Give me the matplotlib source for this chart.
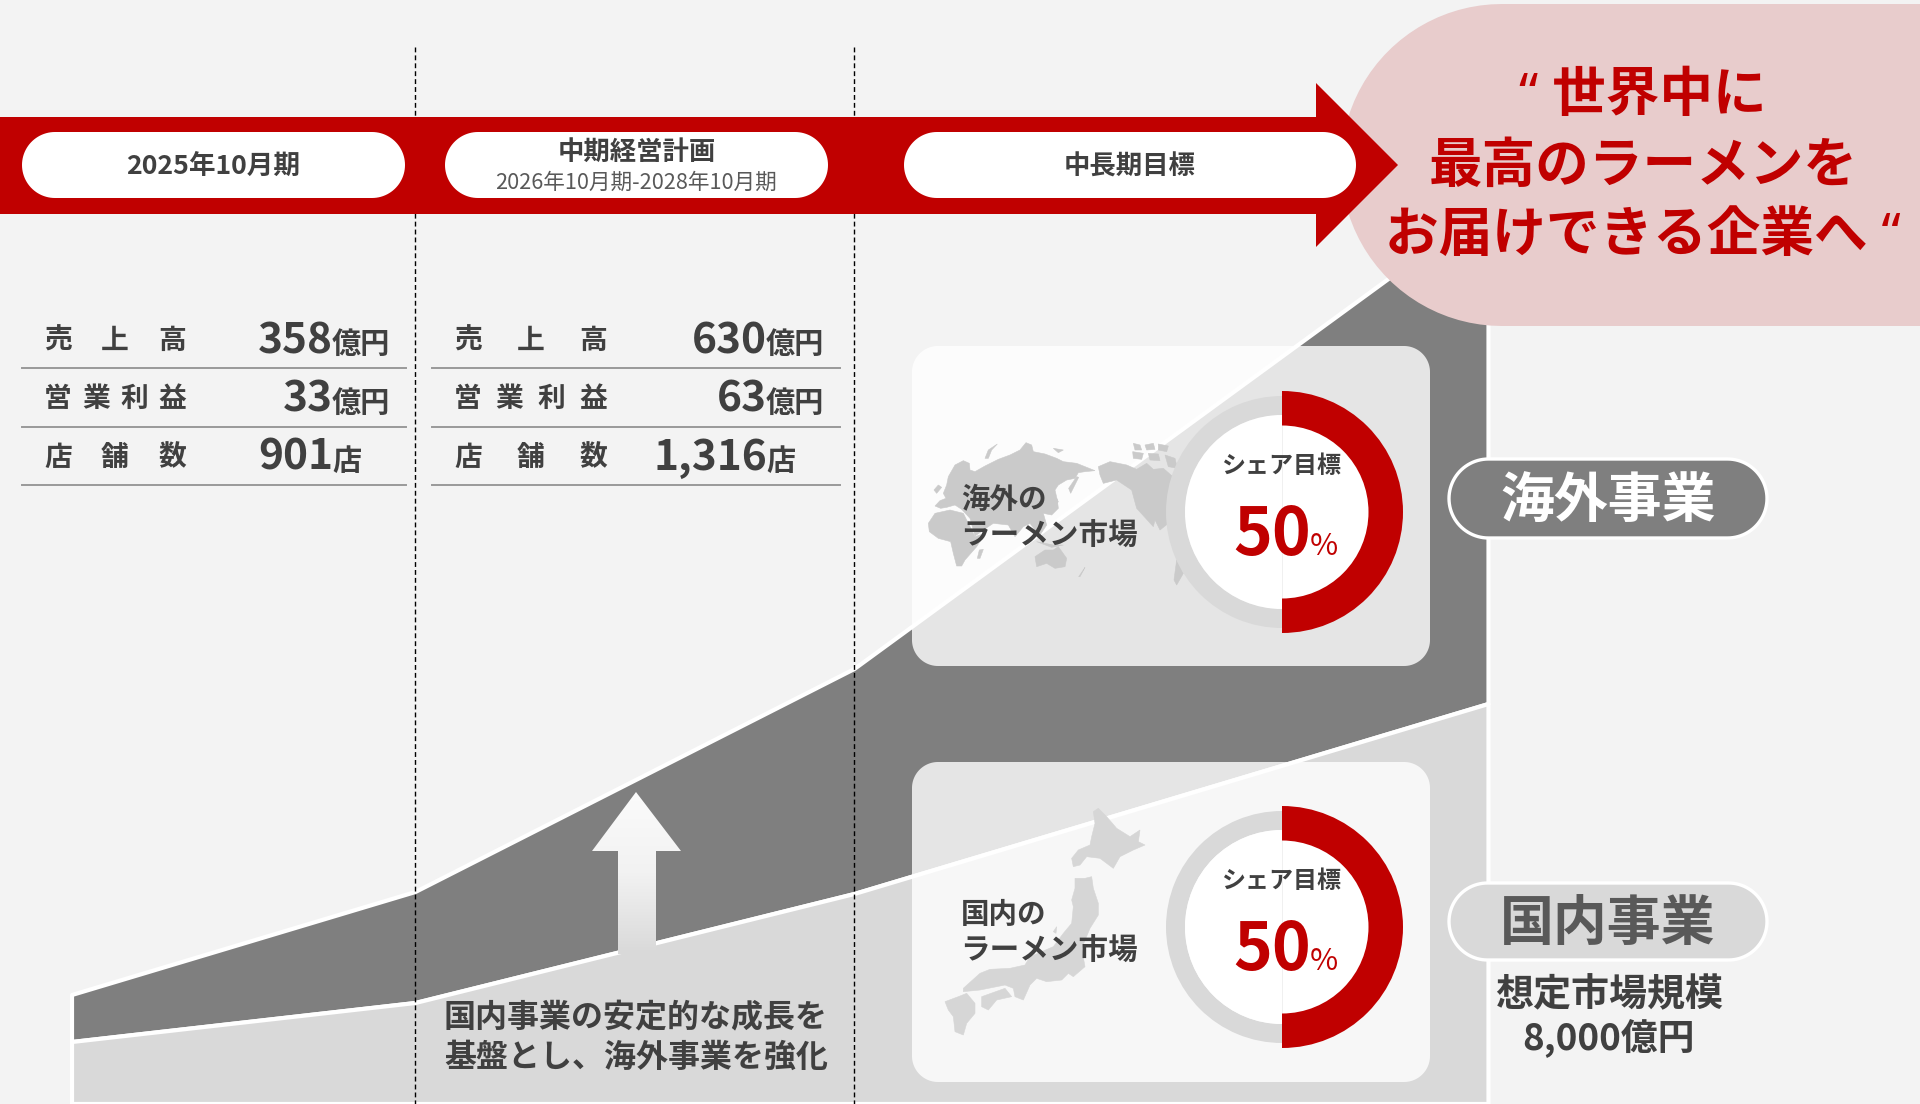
import numpy as np
import matplotlib
matplotlib.use('Agg')
import matplotlib.pyplot as plt
from matplotlib.patches import Polygon, Wedge, Circle
from matplotlib.colors import LinearSegmentedColormap

plt.rcParams['font.family'] = ['Noto Sans CJK JP', 'DejaVu Sans']

# stacked market areas, relative size at each period boundary
area_pos = [0.0, 0.2425, 0.5524, 1.0]
domestic_size = [62, 101, 210, 400]
overseas_size = [47, 111, 225, 498]

# results table
row_labels = ['売上高', '営業利益', '店舗数']
results_2025 = ['358', '33', '901']
results_plan = ['630', '63', '1,316']
row_units = ['億円', '億円', '店']

period_names = ['2025年10月期', '中期経営計画', '中長期目標']
plan_range = '2026年10月期-2028年10月期'
share_target = 50
market_size = '8,000億円'
slogan = ['“ 世界中に', '最高のラーメンを', 'お届けできる企業へ “']

RED = '#c00000'
DARK = '#7f7f7f'
LIGHT = '#d9d9d9'
TEXT = '#404040'
BG = '#f3f3f3'

# rough map outlines, land mass by land mass
world_map = [
    [(45,228),(60,212),(78,205),(70,190),(80,165),(85,140),(105,105),(130,92),(148,100),(150,120),(165,125),
     (195,108),(235,88),(270,75),(300,60),(318,38),(335,45),(340,65),(375,72),(410,85),(430,95),(470,100),
     (525,122),(495,125),(475,128),(465,145),(440,150),(415,165),(405,180),(412,210),(415,235),(395,255),(370,250),
     (380,285),(360,315),(345,300),(330,280),(310,290),(285,320),(265,285),(220,280),(205,290),(165,318),
     (150,265),(125,238),(105,225),(80,232),(62,235)],
    [(195,85),(205,60),(232,42),(215,60),(205,85)],
    [(470,140),(476,142),(452,190),(446,175)],
    [(25,280),(45,250),(90,240),(130,250),(165,320),(195,310),(170,350),(135,390),(125,408),(110,408),
     (100,370),(92,335),(55,325),(28,305)],
    [(42,180),(55,165),(65,172),(50,190)],
    [(178,360),(190,358),(180,385),(172,385)],
    [(345,380),(375,360),(400,360),(415,350),(440,385),(435,410),(405,415),(380,400),(350,410)],
    [(495,412),(480,440),(476,440),(490,420)],
    [(350,335),(400,345),(430,345),(395,352)],
    [(385,240),(410,205),(415,215),(395,245)],
    [(400,55),(430,60),(415,68)],
    [(535,110),(570,95),(620,105),(650,118),(680,100),(700,118),(730,115),(770,150),(770,180),(745,210),(745,280),
     (720,300),(705,270),(700,290),(650,235),(635,180),(590,150),(550,160),(540,135)],
    [(640,40),(660,45),(665,60),(645,60)],
    [(675,45),(700,40),(705,58),(680,60)],
    [(715,42),(745,48),(740,65),(715,60)],
    [(638,65),(670,70),(665,88),(640,85)],
    [(685,70),(715,72),(720,92),(690,90)],
    [(735,75),(765,85),(772,115),(745,110)],
    [(770,390),(790,430),(770,465),(762,450)],
]
japan_map = [
    [(490,35),(505,25),(530,50),(560,85),(600,110),(630,90),(625,125),(645,135),(610,150),(570,170),(550,205),
     (510,175),(470,170),(450,195),(430,200),(425,175),(445,150),(480,135),(485,110),(495,70)],
    [(435,235),(465,235),(485,230),(490,265),(505,310),(505,345),(480,385),(455,445),(465,500),(430,530),
     (415,520),(395,540),(350,545),(320,535),(300,555),(280,600),(255,590),(250,565),(225,555),(150,570),
     (100,575),(100,565),(150,520),(180,508),(240,505),(285,495),(300,470),(370,440),(400,400),(425,370),
     (430,320),(425,300),(435,265)],
    [(155,590),(225,565),(245,590),(200,600),(175,630),(155,620)],
    [(45,605),(85,590),(110,580),(135,610),(135,640),(110,670),(100,705),(75,695),(70,650),(55,630)],
    [(370,395),(380,380),(378,400)],
]


def rounded(x0, y0, x1, y1, r):
    # closed outline of a rectangle with true circular corners
    corners = [(x1 - r, y0 + r, -90), (x1 - r, y1 - r, 0), (x0 + r, y1 - r, 90), (x0 + r, y0 + r, 180)]
    pts = []
    for cx, cy, a in corners:
        t = np.radians(np.linspace(a, a + 90, 24))
        pts += list(zip(cx + r * np.cos(t), cy + r * np.sin(t)))
    return pts


def draw_map(outlines, ox, oy, color):
    for land in outlines:
        pts = [(ox + x / 3, oy + y / 3) for x, y in land]
        ax.add_patch(Polygon(pts, closed=True, fc=color, ec=color, lw=0.4, zorder=6))


fig = plt.figure(figsize=(19.2, 11.04), dpi=100, facecolor=BG)

# stacked areas get their own axes, spanning 71.5..1488 px across and up from y=1103.5
ax_area = fig.add_axes([71.5 / 1920, 0.5 / 1104, (1488 - 71.5) / 1920, 893.5 / 1104])
ax_area.set_xlim(0, 1)
ax_area.set_ylim(0, 893.5)
ax_area.axis('off')
ax_area.set_zorder(1)
stack_top = np.array(domestic_size) + np.array(overseas_size)
ax_area.fill_between(area_pos, domestic_size, stack_top, fc=DARK, ec='white', lw=3, clip_on=False)
ax_area.fill_between(area_pos, 0, domestic_size, fc=LIGHT, ec='white', lw=3, clip_on=False)

# everything else is laid out in pixels
ax = fig.add_axes([0, 0, 1, 1])
ax.set_xlim(0, 1920)
ax.set_ylim(1104, 0)
ax.axis('off')
ax.set_zorder(2)
ax.patch.set_alpha(0)

for x in [415, 854]:
    ax.plot([x, x], [47, 1104], color='black', lw=1.0, ls=(0, (3.5, 2.2)), zorder=2)

# slogan bubble behind the arrow
ax.add_patch(Polygon(rounded(1341, 4, 2300, 326, 161), closed=True, fc='#e8cccc', ec='none', zorder=3))

# timeline arrow
ax.add_patch(Polygon([(0, 117), (1316, 117), (1316, 83), (1398, 165), (1316, 247), (1316, 214), (0, 214)],
                     closed=True, fc=RED, ec='none', zorder=4))
for x0, x1 in [(22, 405), (445, 828), (904, 1356)]:
    ax.add_patch(Polygon(rounded(x0, 132, x1, 198, 33), closed=True, fc='white', ec='none', zorder=5))

ax.text(213, 166, period_names[0], ha='center', va='center', fontsize=19.2, weight='bold', color=TEXT, zorder=6)
ax.text(637, 152.5, period_names[1], ha='center', va='center', fontsize=19, weight='bold', color=TEXT, zorder=6)
ax.text(636, 182.5, plan_range, ha='center', va='center', fontsize=15.6, color='#595959', zorder=6)
ax.text(1130, 167, period_names[2], ha='center', va='center', fontsize=19, weight='bold', color=TEXT, zorder=6)

for i, line in enumerate(slogan):
    ax.text(1643, 98 + i * 70, line, ha='center', va='center', fontsize=38.6, weight='bold', color=RED,
            family=['Noto Sans', 'Noto Sans CJK JP'], zorder=6)

# results table, label characters spread across a fixed width
columns = [(results_2025, 44, 158, 333, 22, 406), (results_plan, 454, 579, 767, 432, 840)]
for values, lab0, lab1, num_x, rule0, rule1 in columns:
    for i in range(3):
        row_y = 340.5 + i * 58.5
        label = row_labels[i]
        for ch, cx in zip(label, np.linspace(lab0, lab1, len(label))):
            ax.text(cx, row_y, ch, ha='left', va='center', fontsize=20, color=TEXT, weight='bold', zorder=6)
        base = 353 + i * 58.5
        ax.text(num_x, base, values[i], ha='right', va='baseline', fontsize=30.5, weight='bold', color=TEXT, zorder=6)
        ax.text(num_x - 1, base, row_units[i], ha='left', va='baseline', fontsize=21, weight='bold', color=TEXT, zorder=6)
        ax.plot([rule0, rule1], [368 + i * 58.5] * 2, color='#999999', lw=1.4, zorder=6)

# growth arrow, fading into the domestic area
arrow_pts = [(636, 792), (681, 851), (656, 851), (656, 954), (618, 954), (618, 851), (592, 851)]
fade = LinearSegmentedColormap.from_list('fade', ['#fbfbfb', '#f2f2f2', LIGHT])
img = ax.imshow(np.linspace(0, 1, 256).reshape(-1, 1), cmap=fade, extent=(592, 681, 954, 792), aspect='auto', zorder=5)
img.set_clip_path(Polygon(arrow_pts, closed=True, transform=ax.transData))
ax.set_xlim(0, 1920)
ax.set_ylim(1104, 0)

ax.text(636, 1018.5, '国内事業の安定的な成長を', ha='center', va='center', fontsize=23, weight='bold', color=TEXT, zorder=6)
ax.text(636, 1057.5, '基盤とし、海外事業を強化', ha='center', va='center', fontsize=23, weight='bold', color=TEXT, zorder=6)

# market cards with share target rings
cards = [(346, 666, 512, '海外の', 499.5, 535.5, 466, 530), (762, 1082, 927, '国内の', 915.5, 950.5, 881, 945)]
for top, bottom, cy, name, y1, y2, share_y, value_y in cards:
    ax.add_patch(Polygon(rounded(912, top, 1430, bottom, 26), closed=True, fc='white', alpha=0.8, ec='none', zorder=5))
    ax.add_patch(Wedge((1282, cy), 116, 0, 360, width=19, fc=LIGHT, ec='none', zorder=7))
    ax.add_patch(Circle((1282, cy), 97, fc='white', ec='none', zorder=7))
    ax.plot([1282, 1282], [cy - 90, cy + 90], color='#eeeeee', lw=0.6, zorder=7)
    ax.add_patch(Wedge((1282, cy), 121, -90, -90 + 360 * share_target / 100, width=34.5, fc=RED, ec='none', zorder=8))
    ax.text(1281, share_y, 'シェア目標', ha='center', va='center', fontsize=17.3, weight='bold', color=TEXT, zorder=9)
    ax.text(1311, value_y + 25, str(share_target), ha='right', va='baseline', fontsize=47.5, weight='bold', color=RED, zorder=9)
    ax.text(1310, value_y + 25, '%', ha='left', va='baseline', fontsize=22, color=RED, zorder=9)
    ax.text(961, y1, name, ha='left', va='center', fontsize=20.5, weight='bold', color=TEXT, zorder=9)
    ax.text(960, y2, 'ラーメン市場', ha='left', va='center', fontsize=21.3, weight='bold', color=TEXT, zorder=9)

draw_map(world_map, 920, 430, '#cacaca')
draw_map(japan_map, 930, 800, '#d6d6d6')

# business labels at the right
for top, bottom, fill, label, col, ty in [(459, 538, DARK, '海外事業', 'white', 501.5), (883, 960, LIGHT, '国内事業', '#595959', 924.5)]:
    ax.add_patch(Polygon(rounded(1449, top, 1767, bottom, (bottom - top) / 2), closed=True, fc=fill, ec='white', lw=2.4, zorder=6))
    ax.text(1608, ty, label, ha='center', va='center', fontsize=38.8, weight='bold', color=col, zorder=7)

ax.text(1609, 995, '想定市場規模', ha='center', va='center', fontsize=27.4, weight='bold', color=TEXT, zorder=7)
ax.text(1608, 1039, market_size, ha='center', va='center', fontsize=26.5, weight='bold', color=TEXT, zorder=7)

fig.savefig('out.png', dpi=100, facecolor=BG)
